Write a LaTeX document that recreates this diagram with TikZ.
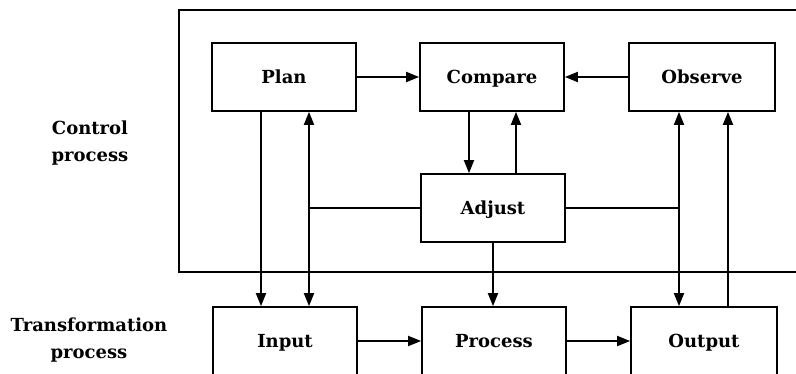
\documentclass[tikz,border=0pt]{standalone}
\usepackage{fontspec}
\setmainfont{DejaVu Serif}
\usetikzlibrary{arrows.meta}
\begin{document}
\begin{tikzpicture}[x=1pt,y=-1pt,
  box/.style={draw,line width=1.7pt,minimum width=144pt,minimum height=68pt,inner sep=0pt,text height=14pt,text depth=2pt,font=\fontsize{18}{22}\selectfont\bfseries},
  lab/.style={align=center,font=\fontsize{18}{27}\selectfont\bfseries},
  ln/.style={line width=1.8pt},
  arr/.style={line width=1.8pt,-{Triangle[length=13pt,width=10pt]}}]
\useasboundingbox (0,0) rectangle (796,373);
\clip (0,0) rectangle (796,373);
\draw[ln] (805,10) -- (179,10) -- (179,272) -- (805,272);
\node[box] (plan) at (284,77) {Plan};
\node[box] (compare) at (492,77) {Compare};
\node[box,minimum width=146pt] (observe) at (702,77) {Observe};
\node[box] (adjust) at (493,208) {Adjust};
\node[box] (input) at (285,341) {Input};
\node[box] (process) at (494,341) {Process};
\node[box,minimum width=146pt] (output) at (704,341) {Output};
\node[lab] (cp) at (90,143) {Control\\process};
\node[lab] (tp) at (89,340) {Transformation\\process};
% top row
\draw[arr] (plan) -- (compare);
\draw[arr] (observe) -- (compare);
\draw[arr] ([xshift=-23pt]compare.south) -- ([xshift=-23pt]compare.south |- adjust.north);
\draw[arr] ([xshift=24pt]compare.south |- adjust.north) -- ([xshift=24pt]compare.south);
% left columns
\draw[arr] ([xshift=-23pt]plan.south) -- ([xshift=-23pt]plan.south |- input.north);
\coordinate (j1) at ([xshift=25pt]plan.south |- adjust.west);
\draw[ln] (adjust.west) -- (j1);
\draw[arr] (j1) -- (j1 |- plan.south);
\draw[arr] (j1) -- (j1 |- input.north);
% right columns
\coordinate (j2) at ([xshift=-23pt]observe.south |- adjust.east);
\draw[ln] (adjust.east) -- (j2);
\draw[arr] (j2) -- (j2 |- observe.south);
\draw[arr] (j2) -- (j2 |- output.north);
\draw[arr] ([xshift=24pt]output.north) -- ([xshift=24pt]output.north |- observe.south);
% middle
\draw[arr] (adjust) -- (adjust |- process.north);
\draw[arr] (input) -- (process);
\draw[arr] (process) -- (output);
\end{tikzpicture}
\end{document}
